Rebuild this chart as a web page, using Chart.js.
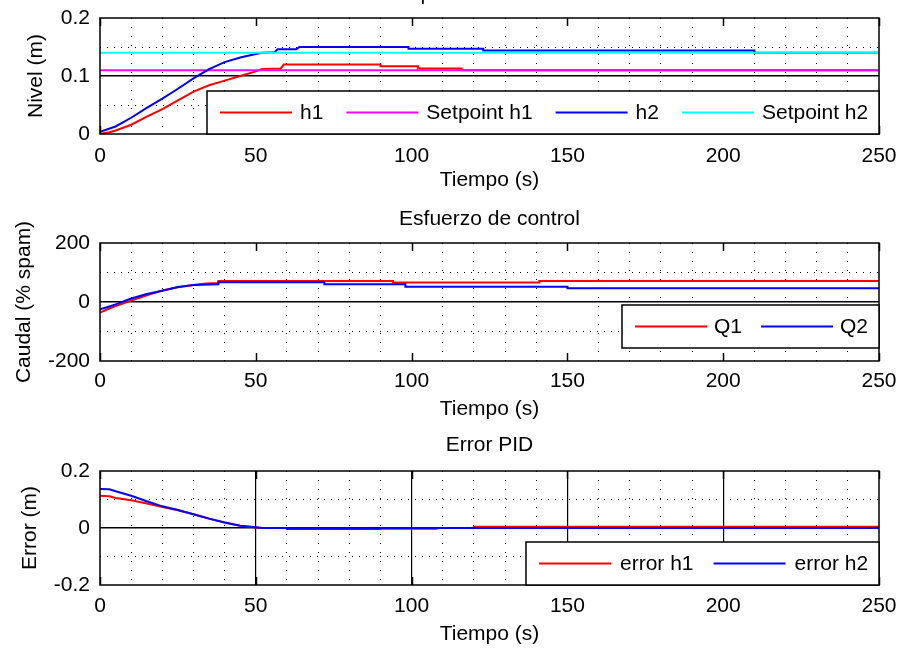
<!DOCTYPE html>
<html>
<head>
<meta charset="utf-8">
<script src="https://cdn.jsdelivr.net/npm/chart.js@4.4.1/dist/chart.umd.min.js"></script>
<style>
  html, body { margin: 0; padding: 0; background: #fff; }
  #wrap { position: relative; width: 900px; height: 651px; overflow: hidden; }
  canvas { position: absolute; left: 0; }
</style>
</head>
<body>
<div id="wrap">
  <canvas id="c1" width="900" height="230" style="top:-30px"></canvas>
  <canvas id="c2" width="900" height="230" style="top:200px"></canvas>
  <canvas id="c3" width="900" height="231" style="top:420px"></canvas>
</div>
<script>
// ---- data ----
const xTickLabels = [0, 50, 100, 150, 200, 250];
const yTicksNivel = [0, 0.1, 0.2];
const yTicksCaudal = [-200, 0, 200];
const yTicksError = [-0.2, 0, 0.2];

// nivel (m)
const tH1 = [0, 3, 5, 10, 15, 20, 25, 30, 35, 40, 45, 50, 52, 58, 59, 90, 90, 102, 102, 116, 116, 250];
const h1  = [0, 0.003, 0.006, 0.016, 0.030, 0.043, 0.058, 0.073, 0.084, 0.092, 0.100, 0.108, 0.112, 0.113, 0.120, 0.120, 0.117, 0.117, 0.113, 0.113, 0.110, 0.110];
const tH2 = [0, 5, 10, 15, 20, 25, 30, 35, 40, 45, 50, 52, 56, 57, 63, 64, 99, 99, 123, 123, 210, 210, 250];
const h2  = [0.004, 0.013, 0.028, 0.045, 0.061, 0.078, 0.096, 0.112, 0.124, 0.132, 0.138, 0.140, 0.141, 0.146, 0.146, 0.150, 0.150, 0.147, 0.147, 0.144, 0.144, 0.140, 0.140];
const tSet = [0, 250];
const sp1 = [0.11, 0.11];
const sp2 = [0.14, 0.14];

// caudal (% spam)
const tQ1 = [0, 3, 5, 10, 15, 20, 25, 30, 34, 38, 38, 94, 94, 141, 141, 250];
const q1  = [-36, -22, -14, 5, 23, 39, 50, 58, 63, 64, 71, 71, 66, 66, 71, 71];
const tQ2 = [0, 3, 5, 10, 15, 20, 25, 30, 38, 38, 72, 72, 98, 98, 150, 150, 250];
const q2  = [-25, -15, -8, 12, 27, 38, 51, 58, 60, 67, 67, 60, 60, 52, 52, 47, 47];

// error (m)
const tE1 = [0, 3, 5, 10, 15, 20, 25, 30, 35, 40, 45, 50, 52, 60, 60, 108, 108, 120, 120, 250];
const e1  = [0.113, 0.111, 0.105, 0.097, 0.086, 0.074, 0.062, 0.048, 0.033, 0.019, 0.008, 0.002, 0, 0, -0.003, -0.003, 0, 0, 0.004, 0.004];
const tE2 = [0, 3, 5, 10, 15, 20, 25, 30, 35, 40, 45, 50, 52, 60, 60, 90, 90, 250];
const e2  = [0.137, 0.136, 0.129, 0.113, 0.094, 0.076, 0.063, 0.048, 0.033, 0.019, 0.008, 0.003, 0, 0, -0.003, -0.003, 0, 0];

// ---- styling ----
const INK = '#000';
const CLEAR = 'rgba(0,0,0,0)';
const FONT = { family: "'Liberation Sans', Arial, sans-serif", size: 21, weight: 'normal' };
Chart.defaults.font.family = FONT.family;
Chart.defaults.color = INK;

const pts = (t, v) => t.map((x, i) => ({ x, y: v[i] }));
const near = (a, b) => Math.abs(a - b) < 1e-9;

function line(label, t, v, color, order) {
  return { label, data: pts(t, v), borderColor: color, backgroundColor: color,
           borderWidth: 2, pointRadius: 0, tension: 0, fill: false, order };
}

// plot frame + inward ticks at the labelled x values
const frame = {
  id: 'frame',
  afterDatasetsDraw(chart) {
    const { ctx, chartArea: a, scales: { x } } = chart;
    ctx.save();
    ctx.strokeStyle = INK;
    ctx.lineWidth = 1.5;
    ctx.strokeRect(a.left, a.top, a.width, a.height);
    ctx.beginPath();
    xTickLabels.forEach(v => {
      const px = Math.round(x.getPixelForValue(v)) + 0.5;
      ctx.moveTo(px, a.top); ctx.lineTo(px, a.top + 8);
      ctx.moveTo(px, a.bottom); ctx.lineTo(px, a.bottom - 8);
    });
    ctx.stroke();
    ctx.restore();
  }
};

// boxed legend in the lower right corner, like MATLAB's
const boxLegend = {
  id: 'boxLegend',
  afterDraw(chart, args, opts) {
    const { ctx, chartArea: a } = chart;
    const sets = chart.data.datasets;
    const lineLen = 72, gapText = opts.gapText || 7, gapItem = opts.gapItem || 19, padL = 13, padR = 11, h = 43;
    ctx.save();
    ctx.font = `${FONT.size}px ${FONT.family}`;
    let w = padL + padR - gapItem;
    sets.forEach(d => { w += lineLen + gapText + ctx.measureText(d.label).width + gapItem; });
    const x0 = Math.round(a.right - w), y0 = Math.round(a.bottom - (opts.lift || 0) - h);
    ctx.fillStyle = '#fff';
    ctx.fillRect(x0, y0, a.right - x0, h);
    ctx.strokeStyle = INK;
    ctx.lineWidth = 1.5;
    ctx.strokeRect(x0, y0, a.right - x0, h);
    let x = x0 + padL;
    const yc = y0 + h / 2;
    sets.forEach(d => {
      ctx.strokeStyle = d.borderColor;
      ctx.lineWidth = 2;
      ctx.beginPath(); ctx.moveTo(x, yc); ctx.lineTo(x + lineLen, yc); ctx.stroke();
      x += lineLen + gapText;
      ctx.fillStyle = INK;
      ctx.textBaseline = 'middle';
      ctx.fillText(d.label, x, yc + 1);
      x += ctx.measureText(d.label).width + gapItem;
    });
    ctx.restore();
  }
};

function xScale(axisH, tickGap, titlePad, solidMajor) {
  const isMajor = c => c.tick && c.tick.value % 50 === 0;
  return {
    type: 'linear', min: 0, max: 250,
    afterFit: s => { s.height = axisH; },
    ticks: { stepSize: 10, autoSkip: false, maxRotation: 0, padding: 0, font: FONT, color: INK,
             callback: v => xTickLabels.includes(v) ? String(v) : '' },
    grid: { drawTicks: true, tickLength: tickGap, tickColor: CLEAR,
            color: c => {
              const v = c.tick ? c.tick.value : 0;
              if (v <= 0 || v >= 250) return CLEAR;
              if (v % 50 === 0) return solidMajor ? INK : CLEAR;
              return INK;
            },
            lineWidth: c => isMajor(c) ? 1.2 : 1 },
    border: { display: false, dash: c => isMajor(c) ? [] : [1, 8] },
    title: { display: true, text: 'Tiempo (s)', font: FONT, color: INK, padding: { top: 0, bottom: titlePad } }
  };
}

function yScale(min, max, step, labels, solid, text, titlePad) {
  const isSolid = c => c.tick && solid.some(s => near(s, c.tick.value));
  return {
    type: 'linear', min, max,
    afterFit: s => { s.width = 100; },
    ticks: { stepSize: step, autoSkip: false, padding: 10, font: FONT, color: INK,
             callback: v => { const l = labels.find(t => near(t, v)); return l === undefined ? '' : String(l); } },
    grid: { drawTicks: false,
            color: c => {
              const v = c.tick ? c.tick.value : min;
              return (near(v, min) || near(v, max)) ? CLEAR : INK;
            },
            lineWidth: c => isSolid(c) ? 1.5 : 1 },
    border: { display: false, dash: c => isSolid(c) ? [] : [1, 6] },
    title: { display: true, text, font: FONT, color: INK, padding: { top: titlePad, bottom: 0 } }
  };
}

function makeChart(id, datasets, cfg) {
  return new Chart(document.getElementById(id), {
    type: 'line',
    data: { datasets },
    options: {
      responsive: false,
      animation: false,
      devicePixelRatio: 1,
      layout: { padding: { left: 0, right: 21, top: 0, bottom: 0 } },
      plugins: {
        legend: { display: false },
        tooltip: { enabled: false },
        title: { display: true, fullSize: false, text: cfg.title, font: FONT, color: INK, padding: cfg.titlePad },
        boxLegend: { lift: cfg.lift || 0, gapItem: cfg.gapItem, gapText: cfg.gapText }
      },
      scales: { x: cfg.x, y: cfg.y }
    },
    plugins: [frame, boxLegend]
  });
}

makeChart('c1', [
  line('h1', tH1, h1, '#ff0000', 4),
  line('Setpoint h1', tSet, sp1, '#ff00ff', 3),
  line('h2', tH2, h2, '#0000ff', 2),
  line('Setpoint h2', tSet, sp2, '#00ffff', 1)
], {
  title: 'Respuesta del sistema',
  titlePad: { top: 12, bottom: 10.8 },
  gapItem: 23, gapText: 8,
  x: xScale(66, 10, 7, false),
  y: yScale(0, 0.2, 0.05, yTicksNivel, [0.1], 'Nivel (m)', 23.6)
});

makeChart('c2', [
  line('Q1', tQ1, q1, '#ff0000', 2),
  line('Q2', tQ2, q2, '#0000ff', 1)
], {
  title: 'Esfuerzo de control',
  titlePad: { top: 6.9, bottom: 10.9 },
  lift: 13,
  x: xScale(69, 8, 8, false),
  y: yScale(-200, 200, 100, yTicksCaudal, [0], 'Caudal (% spam)', 11.6)
});

makeChart('c3', [
  line('error h1', tE1, e1, '#ff0000', 2),
  line('error h2', tE2, e2, '#0000ff', 1)
], {
  title: 'Error PID',
  titlePad: { top: 12.6, bottom: 13.2 },
  gapItem: 20, gapText: 9,
  x: xScale(66, 9, 4, true),
  y: yScale(-0.2, 0.2, 0.1, yTicksError, [0], 'Error (m)', 17.6)
});
</script>
</body>
</html>
